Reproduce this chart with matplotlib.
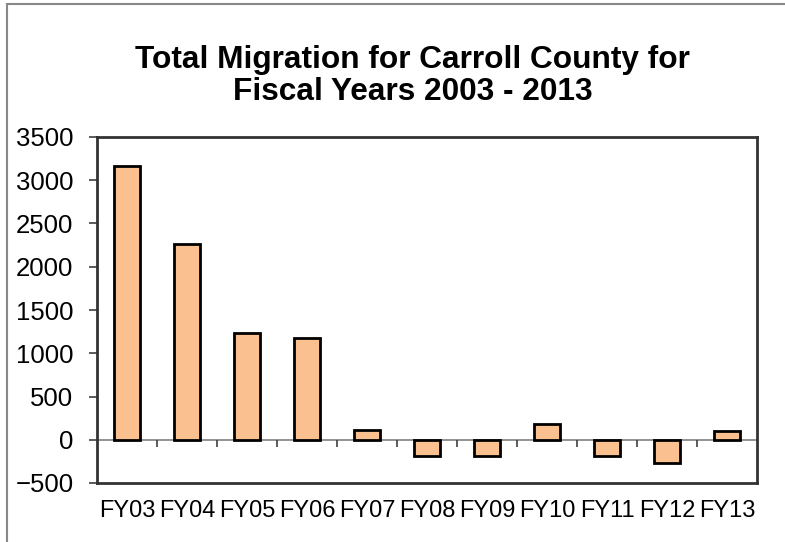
import matplotlib
matplotlib.use("Agg")
import matplotlib.pyplot as plt
from matplotlib.patches import Rectangle
import numpy as np

# values
years = ["FY03", "FY04", "FY05", "FY06", "FY07", "FY08",
         "FY09", "FY10", "FY11", "FY12", "FY13"]
migration = [3160, 2258, 1230, 1179, 109, -186,
             -186, 182, -186, -267, 97]
y_ticks = [-500, 0, 500, 1000, 1500, 2000, 2500, 3000, 3500]
title_lines = ["Total Migration for Carroll County for",
               "Fiscal Years 2003 - 2013"]

plt.rcParams["font.family"] = ["Liberation Sans", "DejaVu Sans"]

W, H = 785, 542
fig = plt.figure(figsize=(W / 100, H / 100), dpi=100)

# outer chart border (only top and left are visible in the crop)
fig.patches.append(Rectangle((7 / W, -0.1), 1.2, (H - 4) / H + 0.1,
                             transform=fig.transFigure, fill=False,
                             edgecolor="#888888", linewidth=1.5))

ax = fig.add_axes([97 / W, (H - 483) / H, 660 / W, 346 / H])

x = np.arange(len(years))
ax.bar(x, migration, width=0.42, color="#FAC090",
       edgecolor="black", linewidth=2, zorder=3)

ax.axhline(0, color="#808080", linewidth=1.2, zorder=2)
# category tick marks on the zero line
bounds = np.arange(len(years) + 1) - 0.5
ax.vlines(bounds[1:-1], -80, 0, color="#404040", linewidth=1.2, zorder=2)

ax.set_xlim(-0.5, len(years) - 0.5)
ax.set_ylim(-500, 3500)
ax.set_yticks(y_ticks)
ax.set_xticks(x)
ax.set_xticklabels(years)

ax.tick_params(axis="y", direction="out", length=6, width=1.2,
               color="#404040", pad=11, labelsize=18.5)
ax.tick_params(axis="x", length=0, pad=12, labelsize=17)

for s in ax.spines.values():
    s.set_linewidth(2)
    s.set_color("#333333")

# two title lines placed on their own baselines
for line, base in zip(title_lines, [68, 100]):
    fig.text(412.5 / W, (H - base) / H, line, ha="center", va="baseline",
             fontsize=22.8, fontweight="bold")

fig.savefig("out.png", dpi=100)
